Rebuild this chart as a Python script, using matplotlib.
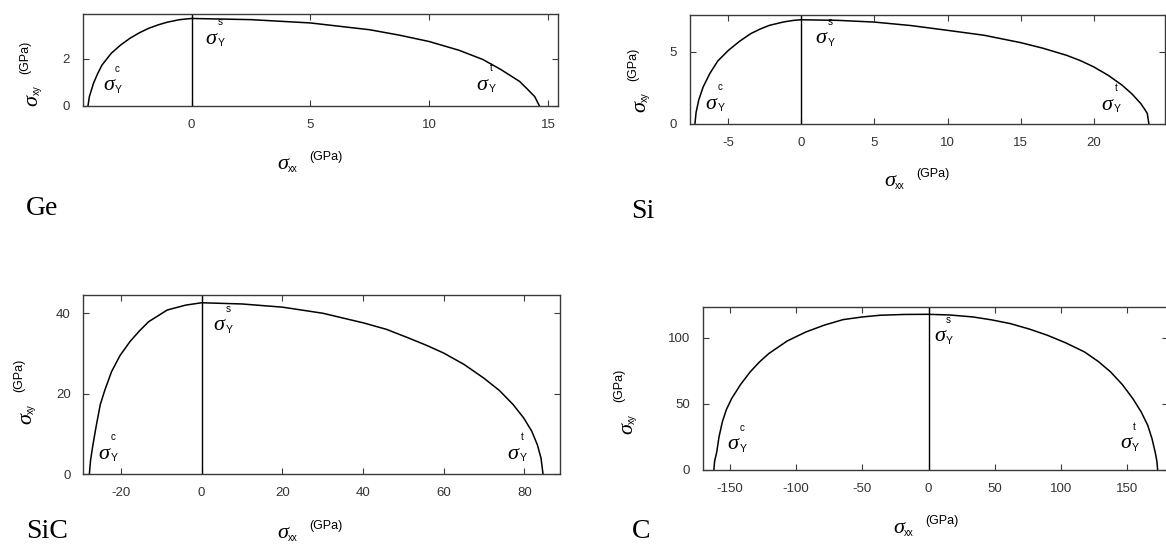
import matplotlib
matplotlib.use("Agg")
import matplotlib.pyplot as plt
from matplotlib.transforms import offset_copy

plt.rcParams["axes.unicode_minus"] = False

# ---------------- data ----------------
ge_x = [-4.36, -4.30, -4.13, -3.95, -3.77, -3.38, -3.0, -2.59, -2.2, -1.81, -1.4, -1.03, -0.5, 0.0,
        2.5, 5.0, 7.5, 8.75, 10.0, 11.25, 12.25, 13.0, 13.81, 14.1, 14.44, 14.64]
ge_y = [0.0, 0.40, 0.96, 1.38, 1.74, 2.24, 2.58, 2.88, 3.11, 3.30, 3.45, 3.56, 3.67, 3.72,
        3.67, 3.53, 3.24, 3.01, 2.74, 2.37, 1.98, 1.56, 1.04, 0.75, 0.40, 0.0]

si_x = [-7.26, -7.18, -7.0, -6.7, -6.24, -5.7, -4.97, -4.2, -3.45, -2.8, -2.18, -1.2, -0.5, 0.0,
        2.5, 5.0, 7.5, 10.0, 12.5, 15.0, 16.5, 18.12, 19.1, 20.0, 21.0, 21.93, 22.6, 23.2, 23.45, 23.65, 23.76]
si_y = [0.0, 0.80, 1.65, 2.55, 3.49, 4.35, 5.09, 5.72, 6.24, 6.56, 6.81, 7.05, 7.16, 7.20,
        7.16, 7.04, 6.80, 6.47, 6.13, 5.62, 5.24, 4.75, 4.37, 3.94, 3.35, 2.68, 2.08, 1.42, 1.05, 0.73, 0.0]

sic_x = [-27.8, -27.5, -26.9, -26.1, -25.1, -24.0, -22.3, -20.2, -17.7, -15.4, -13.1, -8.5, -4.0, 0.0,
         10.0, 20.1, 30.0, 40.1, 45.8, 51.4, 55.8, 60.0, 65.0, 69.9, 73.8, 77.2, 79.8, 81.8, 83.2, 84.1, 84.6]
sic_y = [0.0, 3.5, 7.4, 12.0, 17.3, 20.8, 25.5, 29.5, 33.0, 35.6, 37.9, 40.8, 42.0, 42.6,
         42.3, 41.5, 40.0, 37.6, 36.0, 33.8, 32.0, 30.1, 27.3, 23.9, 20.8, 17.3, 14.0, 10.7, 7.3, 4.0, 0.0]

c_x = [-161.9, -161.3, -159.7, -158.0, -155.5, -152.5, -148.5, -141.8, -134.5, -127.6, -120.4, -106.5,
       -92.4, -78.4, -64.4, -50.0, -36.4, -18.0, 0.0, 16.0, 33.6, 47.6, 61.6, 75.6, 89.6, 103.6,
       117.6, 128.0, 137.3, 146.2, 154.1, 160.3, 165.3, 168.5, 170.9, 172.2, 172.8]
c_y = [0.0, 6.8, 13.6, 25.0, 36.3, 45.5, 53.9, 64.5, 74.1, 81.5, 88.0, 97.5,
       104.3, 109.5, 113.6, 115.6, 116.9, 117.5, 117.6, 117.1, 115.6, 113.4, 110.6, 106.6, 101.8, 96.0,
       89.2, 82.0, 74.1, 64.5, 53.9, 44.0, 33.8, 23.8, 13.6, 6.8, 0.0]

ge_xticks = [0, 5, 10, 15]
si_xticks = [-5, 0, 5, 10, 15, 20]
sic_xticks = [-20, 0, 20, 40, 60, 80]
c_xticks = [-150, -100, -50, 0, 50, 100, 150]
ge_yticks = [0, 2]
si_yticks = [0, 5]
sic_yticks = [0, 20, 40]
c_yticks = [0, 50, 100]

materials = ["Ge", "Si", "SiC", "C"]

# ---------------- layout ----------------
W, H = 1166, 544
fig = plt.figure(figsize=(W / 100, H / 100), dpi=100)
SERIF = "Liberation Serif"
SANS = "Liberation Sans"
EDGE = "#3a3a3a"


def px_axes(l, r, t, b):
    return fig.add_axes([l / W, 1 - b / H, (r - l) / W, (b - t) / H])


def style(ax, xlim, ylim, xt, yt):
    ax.set_xlim(*xlim)
    ax.set_ylim(*ylim)
    ax.set_xticks(xt)
    ax.set_yticks(yt)
    ax.tick_params(direction="in", length=4, width=0.8, top=True, right=True,
                   color=EDGE, labelcolor="#333333", labelsize=9.5, pad=9)
    for lab in ax.get_xticklabels() + ax.get_yticklabels():
        lab.set_family(SANS)
    for s in ax.spines.values():
        s.set_color(EDGE)
        s.set_linewidth(1.0)
    ax.axvline(0, color="black", lw=1.0)


def off(base, dx, dy, rot):
    if rot:
        dx, dy = -dy, dx
    return offset_copy(base, fig=fig, x=dx, y=dy, units="dots")


def sigma_mark(ax, x, y, sup):
    base = ax.transData
    ax.text(x, y, "σ", transform=base, fontsize=16, fontstyle="italic",
            family=SERIF, ha="center", va="center")
    ax.text(x, y, "Y", transform=off(base, 10, -4, 0), fontsize=7.5,
            family=SANS, ha="center", va="center")
    ax.text(x, y, sup, transform=off(base, 9, 17, 0), fontsize=7,
            family=SANS, ha="center", va="center")


def axis_label(xp, yp, sub, rot):
    base = fig.transFigure
    x, y = xp / W, 1 - yp / H
    fig.text(x, y, "σ", transform=base, fontsize=16, fontstyle="italic",
             family=SERIF, ha="center", va="center", rotation=rot)
    fig.text(x, y, sub, transform=off(base, 10, -4, rot), fontsize=7,
             family=SANS, ha="center", va="center", rotation=rot)
    fig.text(x, y, "(GPa)", transform=off(base, 43, 8, rot), fontsize=9,
             family=SANS, ha="center", va="center", rotation=rot)


def panel_label(xp, yp, s):
    fig.text(xp / W, 1 - yp / H, s, fontsize=20, family=SERIF,
             ha="left", va="baseline")


panels = [
    dict(box=(82.5, 558, 14, 106), x=ge_x, y=ge_y, xlim=(-4.59, 15.42), ylim=(0, 3.91),
         xt=ge_xticks, yt=ge_yticks,
         marks=[(-3.5, 0.87, "c"), (0.81, 2.84, "s"), (12.22, 0.89, "t")],
         xl=(282.5, 165), yl=(33, 100), pl=(26, 215)),
    dict(box=(689.5, 1165, 14.7, 124), x=si_x, y=si_y, xlim=(-7.63, 24.86), ylim=(0, 7.55),
         xt=si_xticks, yt=si_yticks,
         marks=[(-6.17, 1.35, "c"), (1.37, 5.89, "s"), (20.9, 1.31, "t")],
         xl=(889.7, 181.7), yl=(641, 107), pl=(631, 218)),
    dict(box=(83.3, 560, 294.7, 474.3), x=sic_x, y=sic_y, xlim=(-29.3, 88.8), ylim=(0, 44.6),
         xt=sic_xticks, yt=sic_yticks,
         marks=[(-24.1, 5.0, "c"), (4.4, 36.9, "s"), (77.2, 5.0, "t")],
         xl=(282.5, 533.7), yl=(27, 418.7), pl=(26, 538)),
    dict(box=(702.7, 1168, 307.3, 470), x=c_x, y=c_y, xlim=(-170.3, 180.6), ylim=(0, 122.9),
         xt=c_xticks, yt=c_yticks,
         marks=[(-147.6, 19.1, "c"), (8.4, 100.5, "s"), (148.5, 19.9, "t")],
         xl=(899, 528.7), yl=(627.6, 428.7), pl=(631.6, 538)),
]

for name, p in zip(materials, panels):
    ax = px_axes(*p["box"])
    ax.plot(p["x"], p["y"], color="black", lw=1.1)
    style(ax, p["xlim"], p["ylim"], p["xt"], p["yt"])
    for mx, my, sup in p["marks"]:
        sigma_mark(ax, mx, my, sup)
    axis_label(*p["xl"], "xx", 0)
    axis_label(*p["yl"], "xy", 90)
    panel_label(*p["pl"], name)

fig.savefig("out.png", dpi=100)
